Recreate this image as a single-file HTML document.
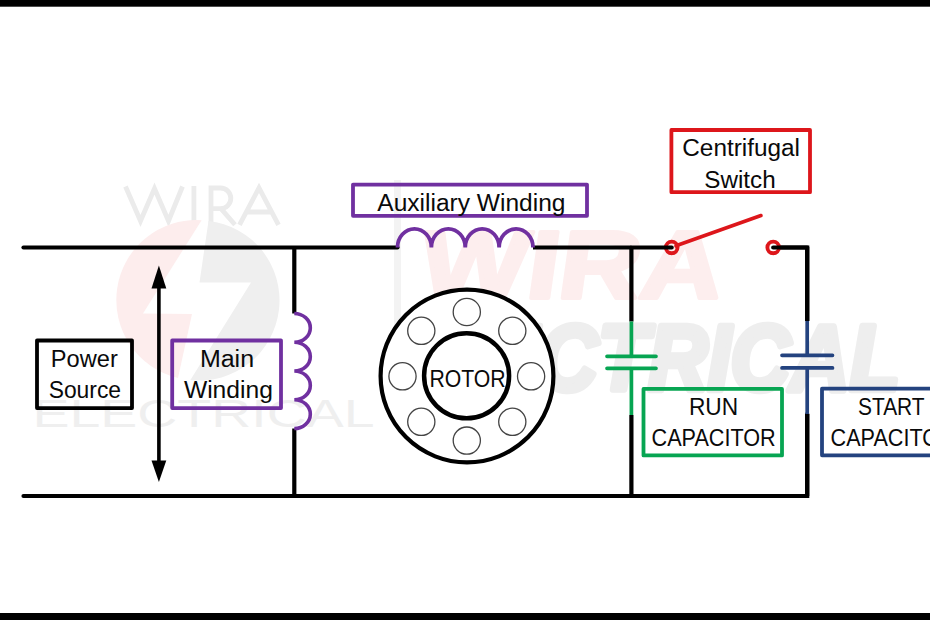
<!DOCTYPE html>
<html><head><meta charset="utf-8">
<style>
html,body{margin:0;padding:0;background:#fff;width:930px;height:620px;overflow:hidden}
svg{display:block}
text{font-family:"Liberation Sans",sans-serif;fill:#0a0a0a}
</style></head>
<body>
<svg width="930" height="620" viewBox="0 0 930 620">
<rect x="0" y="0" width="930" height="620" fill="#fff"/>
<!-- watermark -->
<defs><clipPath id="cpE"><rect x="396" y="0" width="600" height="620"/></clipPath></defs>
<g id="wm">
  <path d="M125.5 186.5 L140.5 221 L154.5 188.5 L168.5 221 L182.5 186.5 M193.9 186 V224.8 M211 224.8 V188 H220.5 A10.3 10.3 0 0 1 220.5 208.6 H211 M221 208.6 L235 224.8 M239.5 224.8 L259 188 L278.5 224.8 M246.5 212 H271.5" fill="none" stroke="#ebebeb" stroke-width="4.8" stroke-linejoin="miter" stroke-miterlimit="10"/>
  <path d="M201.6 220.2 A80 80 0 0 0 178 377.9 L192 314 L143 313.5 Z" fill="#fdeded"/>
  <path d="M208.5 220.9 A80 80 0 0 1 190.4 380 L251 282.4 L199.5 282.4 Z" fill="#efefef"/>
  <text x="203.5" y="426.5" text-anchor="middle" font-size="38" textLength="342" lengthAdjust="spacingAndGlyphs" style="fill:#efefef">ELECTRICAL</text>
  <rect x="394" y="180" width="7" height="160" fill="#f3f3f3"/>
  <g transform="translate(568,298) skewX(-8)"><text x="0" y="0" text-anchor="middle" font-size="96" font-weight="bold" textLength="302" lengthAdjust="spacingAndGlyphs" stroke="#fdeeee" stroke-width="4" stroke-linejoin="round" style="fill:#fdeeee">WIRA</text></g>
  <text clip-path="url(#cpE)" x="639" y="389.8" text-anchor="middle" font-size="93" font-weight="bold" font-style="italic" textLength="522" lengthAdjust="spacingAndGlyphs" stroke="#eeeeee" stroke-width="6.5" stroke-linejoin="round" style="fill:#eeeeee">ELECTRICAL</text>
</g>

<!-- bars -->
<rect x="0" y="0" width="930" height="6.7" fill="#000"/>
<rect x="0" y="613" width="930" height="7" fill="#000"/>

<!-- wires -->
<g stroke="#000" stroke-width="4.2" fill="none">
  <path d="M23.5 247.5 H397.5" stroke-linecap="round"/>
  <path d="M533 247.5 H631.4"/>
  <path d="M780 247.5 H807.2 V321" stroke-linejoin="miter"/><path d="M807.2 414 V496 H23.5" stroke-linecap="round" stroke-linejoin="miter"/>
  <path d="M294.3 247.5 V313.5 M294.3 428.5 V496"/>
  <path d="M631.4 247.5 V321.5 M631.4 415 V496"/>
  <path d="M807.2 247.5 V321 M807.2 414 V496"/>
  <path d="M158.9 285 V464" stroke-width="3.6"/>
</g>
<path d="M158.9 265.5 L151.5 288.5 L166.3 288.5 Z" fill="#000"/>
<path d="M158.9 482 L151.5 460.5 L166.3 460.5 Z" fill="#000"/>

<!-- main winding coil -->
<path d="M294.3 313.50 A16 14.36 0 0 1 294.3 342.25 A16 14.36 0 0 1 294.3 371.00 A16 14.36 0 0 1 294.3 399.75 A16 14.36 0 0 1 294.3 428.50" stroke="#7030a0" stroke-width="3.6" fill="none"/>
<!-- aux coil -->
<path d="M397.50 247.5 A16.92 18.6 0 0 1 431.38 247.5 A16.92 18.6 0 0 1 465.25 247.5 A16.92 18.6 0 0 1 499.12 247.5 A16.92 18.6 0 0 1 533.00 247.5" stroke="#7030a0" stroke-width="3.8" fill="none"/>

<!-- capacitors -->
<g stroke="#07a552" stroke-width="3.7" fill="none" stroke-linecap="round">
  <path d="M631.4 321.5 V356.3 M631.4 368.3 V415" stroke-linecap="butt"/>
  <path d="M607 356.3 H656 M607 368.3 H656"/>
</g>
<g stroke="#24437f" stroke-width="3.7" fill="none" stroke-linecap="round">
  <path d="M807.2 321 V355.3 M807.2 367.9 V414" stroke-linecap="butt"/>
  <path d="M782 355.3 H832.5 M782 367.9 H832.5"/>
</g>
<!-- switch -->
<g stroke="#dd161b" fill="none">
  <path d="M676 245.8 L761 215.5" stroke-width="3.6" stroke-linecap="round"/>
  <circle cx="671.7" cy="247.4" r="5.8" stroke-width="3.9"/>
  <circle cx="773.2" cy="247.4" r="5.8" stroke-width="3.9"/>
</g>
<path d="M631.4 247.5 H671.7 M807.2 247.5 H773.2" stroke="#000" stroke-width="4.2" stroke-linecap="round"/>
<!-- rotor -->
<circle cx="467" cy="376" r="86.4" stroke="#000" stroke-width="4.2" fill="#fff"/>
<circle cx="466.6" cy="375.8" r="42.5" stroke="#000" stroke-width="4.5" fill="#fff"/>
<g stroke="#444" stroke-width="1.3" fill="none">
  <circle cx="466.8" cy="312.0" r="13.6"/>
  <circle cx="512.3" cy="330.8" r="13.6"/>
  <circle cx="531.1" cy="376.3" r="13.6"/>
  <circle cx="512.3" cy="421.8" r="13.6"/>
  <circle cx="466.8" cy="440.6" r="13.6"/>
  <circle cx="421.3" cy="421.8" r="13.6"/>
  <circle cx="402.5" cy="376.3" r="13.6"/>
  <circle cx="421.3" cy="330.8" r="13.6"/>
</g>

<!-- boxes -->
<g fill="none" stroke-width="3.8" stroke-linejoin="round">
  <rect x="37" y="340.5" width="95" height="67.6" stroke="#000"/>
  <rect x="172.2" y="340.5" width="108.8" height="67.6" stroke="#7030a0"/>
  <rect x="353" y="184.6" width="234" height="31.2" stroke="#7030a0"/>
  <rect x="671.4" y="130" width="138.6" height="62.2" stroke="#dd161b"/>
  <rect x="643.5" y="388.9" width="138.5" height="66.5" stroke="#07a552"/>
  <rect x="822" y="388.7" width="130" height="66.6" stroke="#24437f"/>
</g>

<!-- texts -->
<g id="texts" font-size="23">
  <text x="84.30" y="366.8" text-anchor="middle" textLength="67.0" lengthAdjust="spacingAndGlyphs">Power</text>
  <text x="84.85" y="398.2" text-anchor="middle" textLength="72.4" lengthAdjust="spacingAndGlyphs">Source</text>
  <text x="227.00" y="366.5" text-anchor="middle" textLength="54.2" lengthAdjust="spacingAndGlyphs">Main</text>
  <text x="228.40" y="398.4" text-anchor="middle" textLength="89.0" lengthAdjust="spacingAndGlyphs">Winding</text>
  <text x="471.40" y="210.8" text-anchor="middle" textLength="188.1" lengthAdjust="spacingAndGlyphs">Auxiliary Winding</text>
  <text x="467.50" y="386.8" text-anchor="middle" textLength="76.2" lengthAdjust="spacingAndGlyphs">ROTOR</text>
  <text x="741.15" y="156.3" text-anchor="middle" textLength="117.7" lengthAdjust="spacingAndGlyphs">Centrifugal</text>
  <text x="740.00" y="187.5" text-anchor="middle" textLength="71.4" lengthAdjust="spacingAndGlyphs">Switch</text>
  <text x="713.50" y="414.5" text-anchor="middle" textLength="49.2" lengthAdjust="spacingAndGlyphs">RUN</text>
  <text x="713.60" y="446.2" text-anchor="middle" textLength="124.1" lengthAdjust="spacingAndGlyphs">CAPACITOR</text>
  <text x="891.30" y="414.5" text-anchor="middle" textLength="66.6" lengthAdjust="spacingAndGlyphs">START</text>
  <text x="830.60" y="445.5" textLength="124.1" lengthAdjust="spacingAndGlyphs">CAPACITOR</text>
</g>
</svg>
</body></html>
